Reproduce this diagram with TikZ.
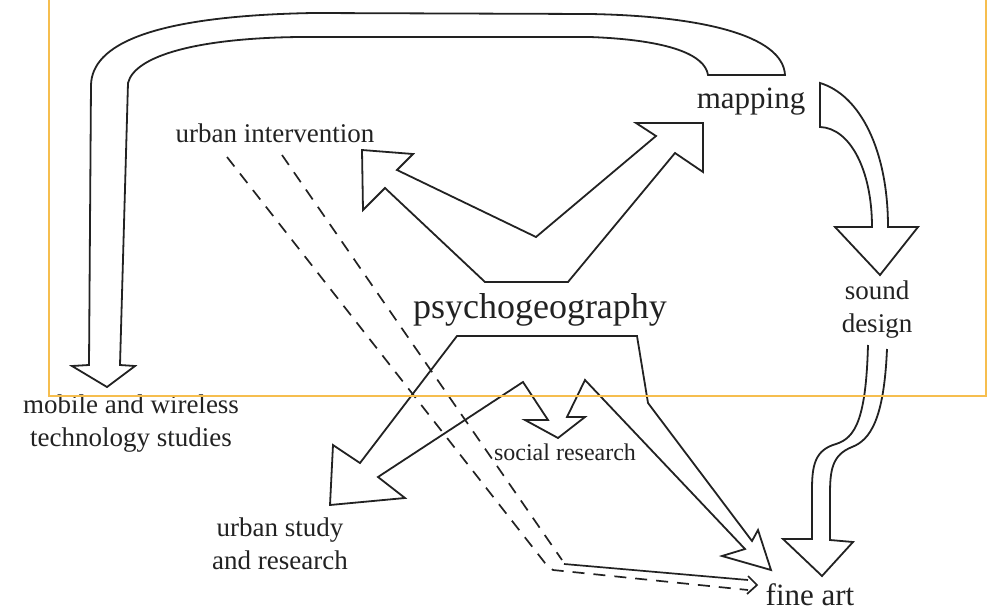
\documentclass[tikz,border=0pt]{standalone}
\usepackage{fontspec}
\setmainfont{Liberation Serif}
\definecolor{ink}{HTML}{222222}
\definecolor{frame}{HTML}{F6BE4F}
\tikzset{
  lbl/.style={anchor=base, align=center, inner sep=0pt, text=ink,
    font=\fontsize{27}{33}\selectfont},
  blockarrow/.style={draw=ink, line width=1.8pt, line join=miter},
  dashline/.style={draw=ink, line width=1.7pt, dash pattern=on 12pt off 9pt},
}
\begin{document}
\begin{tikzpicture}[x=1pt,y=-1pt]
\useasboundingbox (0,0) rectangle (989,613);
% labels
\node[lbl, font=\fontsize{31}{36}\selectfont] (mapping) at (751,108) {mapping};
\node[lbl] (urbint) at (275,142) {urban intervention};
\node[lbl, font=\fontsize{36}{40}\selectfont] (psycho) at (540,318) {psychogeography};
\node[lbl] (sound) at (877,332) {sound\\design};
\node[lbl] (mobile) at (131,446) {mobile and wireless\\technology studies};
\node[lbl, font=\fontsize{24}{28}\selectfont] (social) at (565,460) {social research};
\node[lbl] (urbstudy) at (280,569) {urban study\\and research};
\node[lbl, font=\fontsize{31}{36}\selectfont] (fineart) at (810,605) {fine art};
% mapping -> mobile
\path[blockarrow] (785,75) .. controls (783,35) and (700,16) .. (590,14) -- (313,13)
  .. controls (150,16) and (92,45) .. (91,85) -- (89,365) -- (72,366) -- (107,387)
  -- (135,366) -- (120,365) -- (128,83) .. controls (135,55) and (200,38) .. (300,37)
  -- (590,37) .. controls (670,40) and (705,55) .. (708,75) -- cycle;
% mapping -> sound design
\path[blockarrow] (820,83) .. controls (860,95) and (888,150) .. (888,227) -- (918,227)
  -- (880,275) -- (835,227) -- (872,227) .. controls (872,170) and (850,128) .. (820,127) -- cycle;
% sound design -> fine art
\path[blockarrow] (868,345) .. controls (866,420) and (855,438) .. (836,444)
  .. controls (815,450) and (812,465) .. (812,490) -- (812,539) -- (783,539) -- (822,576)
  -- (853,542) -- (830,540) -- (830,495) .. controls (830,470) and (832,455) .. (852,447)
  .. controls (870,440) and (884,420) .. (887,349);
% psychogeography -> urban intervention, mapping
\path[blockarrow] (485,282) -- (568,282) -- (675,153) -- (703,172) -- (703,123) -- (636,123)
  -- (656,136) -- (536,237) -- (397,170) -- (413,154) -- (362,150) -- (363,210) -- (385,188) -- cycle;
% psychogeography -> urban study, social research, fine art
\path[blockarrow] (457,336) -- (637,336) -- (648,403) -- (752,541) -- (758,530) -- (771,570)
  -- (722,556) -- (745,549) -- (585,380) -- (567,417) -- (585,417) -- (558,438) -- (525,420)
  -- (548,420) -- (523,382) -- (378,477) -- (405,498) -- (330,505) -- (333,445) -- (360,463) -- cycle;
% urban intervention -> fine art
\path[dashline] (227,157) -- (545,563) -- (553,570) -- (748,590);
\path[dashline] (282,155) -- (562,560);
\path[draw=ink, line width=1.7pt] (564,564) -- (748,580);
\path[draw=ink, line width=1.7pt] (748,576) -- (757,585) -- (747,594);
% frame
\path[draw=frame, line width=2.5pt] (49,-5) -- (49,396) -- (986,396) -- (986,-5);
\end{tikzpicture}
\end{document}
